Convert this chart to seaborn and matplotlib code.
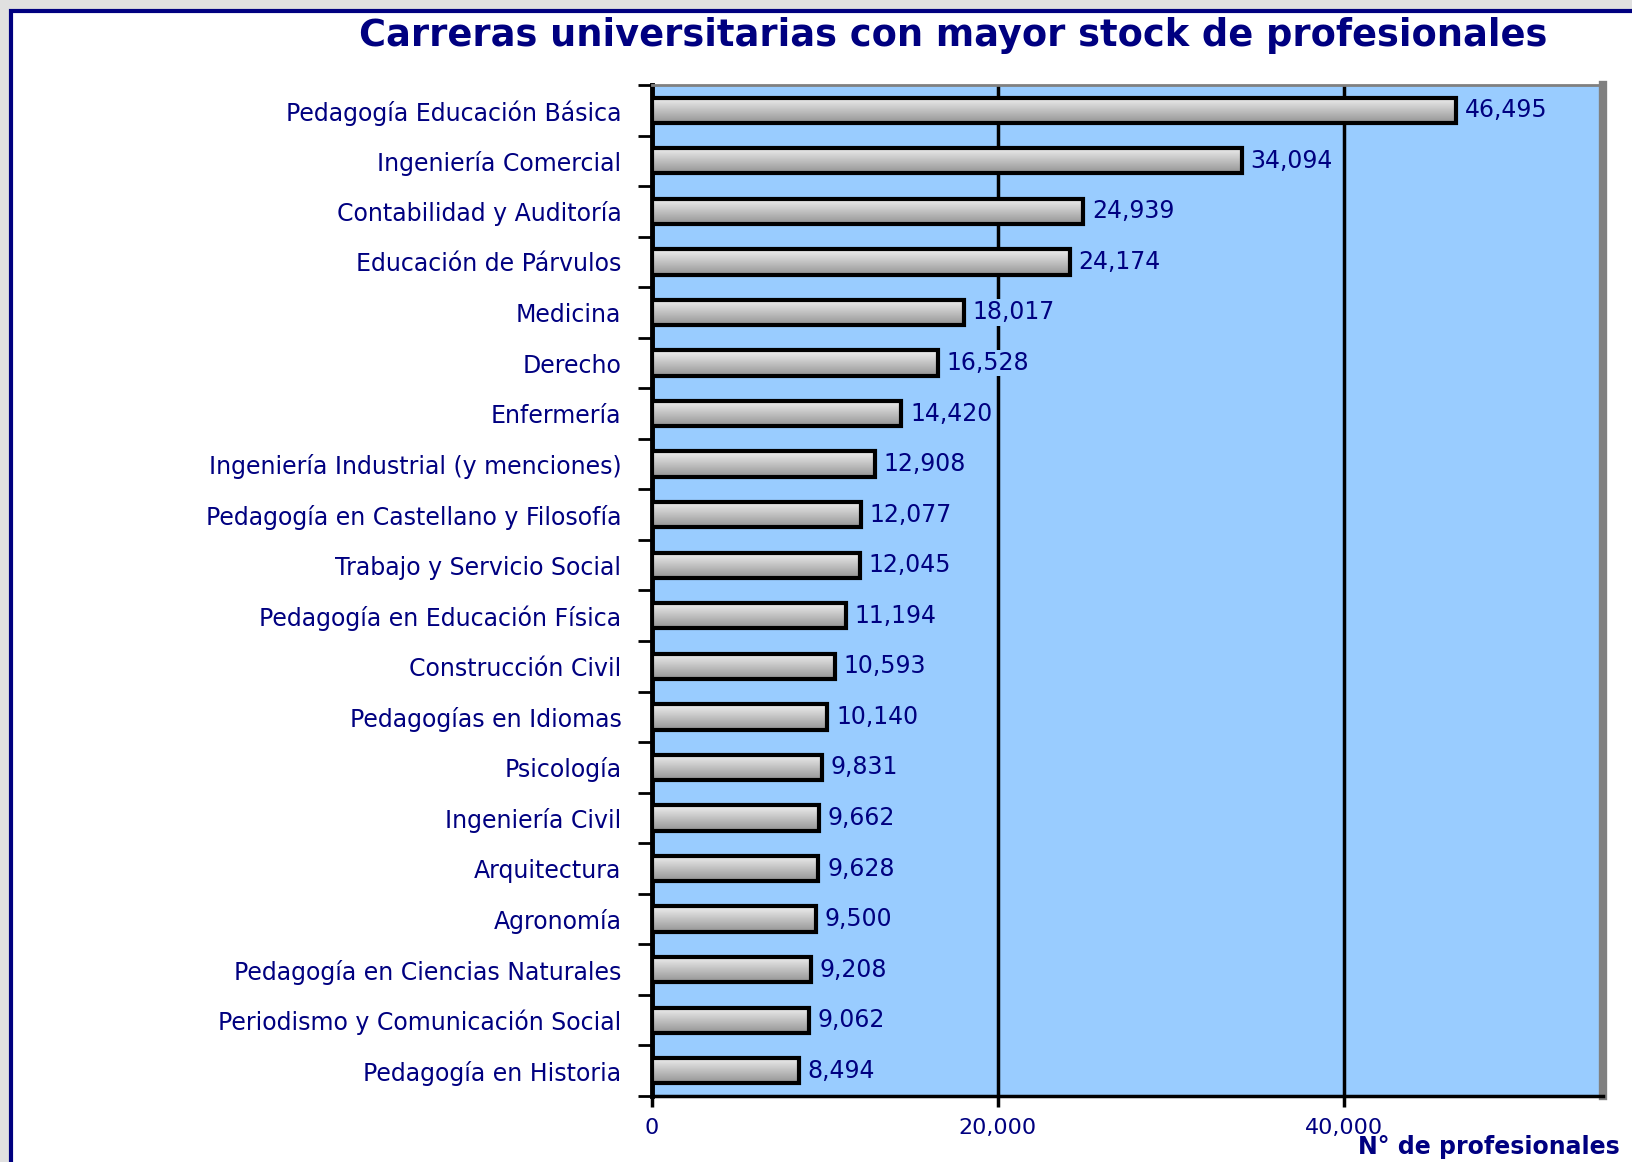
import numpy as np
import pandas as pd
import matplotlib
matplotlib.use('Agg')
import matplotlib.pyplot as plt
from matplotlib.patches import Rectangle
import seaborn as sns

carreras = [
    'Pedagogía Educación Básica',
    'Ingeniería Comercial',
    'Contabilidad y Auditoría',
    'Educación de Párvulos',
    'Medicina',
    'Derecho',
    'Enfermería',
    'Ingeniería Industrial (y menciones)',
    'Pedagogía en Castellano y Filosofía',
    'Trabajo y Servicio Social',
    'Pedagogía en Educación Física',
    'Construcción Civil',
    'Pedagogías en Idiomas',
    'Psicología',
    'Ingeniería Civil',
    'Arquitectura',
    'Agronomía',
    'Pedagogía en Ciencias Naturales',
    'Periodismo y Comunicación Social',
    'Pedagogía en Historia',
]
profesionales = [46495, 34094, 24939, 24174, 18017, 16528, 14420, 12908, 12077, 12045,
                 11194, 10593, 10140, 9831, 9662, 9628, 9500, 9208, 9062, 8494]
x_ticks = [0, 20000, 40000]

df = pd.DataFrame({'carrera': carreras, 'profesionales': profesionales})

navy = '#000080'
blue_bg = '#99CCFF'

sns.set_style('white')
plt.rcParams['font.family'] = ['DejaVu Sans']

fig = plt.figure(figsize=(16.32, 11.62), dpi=100)
fig.patch.set_facecolor('#e0e0e0')
# white frame with navy border
frame = Rectangle((11 / 1632, -0.1), 2, 1.1 - 11 / 1162, transform=fig.transFigure,
                  facecolor='white', edgecolor=navy, lw=3, zorder=-10)
fig.add_artist(frame)

ax = fig.add_axes([652 / 1632, 1 - 1096 / 1162, 951 / 1632, 1011 / 1162])
ax.set_facecolor(blue_bg)

sns.barplot(data=df, x='profesionales', y='carrera', orient='h', width=0.5,
            facecolor='none', edgecolor='black', linewidth=3, ax=ax, zorder=4)

# gray gradient fill inside each bar
grad = np.linspace(0.94, 0.58, 64).reshape(-1, 1)
for i, bar in enumerate(ax.patches):
    x0, y0 = bar.get_x(), bar.get_y()
    w, h = bar.get_width(), bar.get_height()
    im = ax.imshow(grad, cmap='gray', vmin=0, vmax=1, aspect='auto', origin='upper',
                   extent=(x0, x0 + w, y0 + h, y0), zorder=3, interpolation='bilinear')
    im.set_clip_path(bar)

ax.set_xlim(0, 55000)
ax.set_ylim(len(carreras) - 0.5, -0.5)

# value labels
for i, v in enumerate(profesionales):
    ax.text(v + 500, i, f'{v:,}', va='center', ha='left', color=navy, fontsize=17,
            zorder=5, bbox=dict(facecolor=blue_bg, edgecolor='none', pad=1))

ax.grid(axis='x', color='black', lw=2.5)
ax.grid(axis='y', visible=False)
ax.set_axisbelow(True)

ax.set_xticks(x_ticks)
ax.set_xticklabels([f'{t:,}' for t in x_ticks], color=navy, fontsize=16)
ax.tick_params(axis='x', length=8, width=2.5, color='black', pad=8, bottom=True)
ax.tick_params(axis='y', which='major', length=0, pad=22, labelsize=17, labelcolor=navy)
ax.set_yticks(np.arange(-0.5, len(carreras), 1), minor=True)
ax.tick_params(axis='y', which='minor', length=10, width=2, color='black', left=True)

for side in ['top', 'right', 'left', 'bottom']:
    ax.spines[side].set_visible(True)
ax.spines['left'].set_color('black')
ax.spines['left'].set_linewidth(3.5)
ax.spines['bottom'].set_color('black')
ax.spines['bottom'].set_linewidth(2.5)
ax.spines['top'].set_color('#808080')
ax.spines['top'].set_linewidth(2)
ax.spines['right'].set_color('#808080')
ax.spines['right'].set_linewidth(6)

ax.set_ylabel('')
ax.set_xlabel('N° de profesionales', color=navy, fontsize=17, fontweight='bold',
              ha='right', va='center')
ax.xaxis.set_label_coords(1.018, -0.050)

fig.text(0.584, 1 - 36 / 1162, 'Carreras universitarias con mayor stock de profesionales',
         ha='center', va='center', color=navy, fontsize=26.5, fontweight='bold')

fig.savefig('out.png', dpi=100, facecolor=fig.get_facecolor())
